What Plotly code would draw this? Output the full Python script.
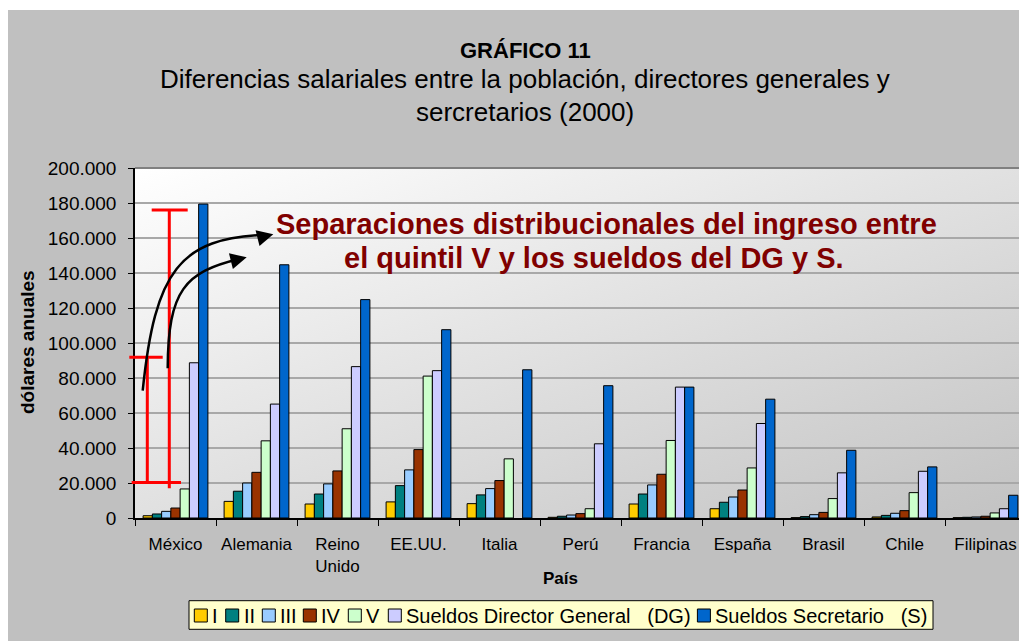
import base64
import plotly.graph_objects as go

# ---------------- data ----------------
categories = ["México", "Alemania", "Reino Unido", "EE.UU.", "Italia", "Perú",
              "Francia", "España", "Brasil", "Chile", "Filipinas"]
tick_labels = ["México", "Alemania", "Reino<br>Unido", "EE.UU.", "Italia", "Perú",
               "Francia", "España", "Brasil", "Chile", "Filipinas"]

quintil_I = [1300, 9500, 8000, 9200, 8200, 400, 8000, 5300, 200, 600, 200]
quintil_II = [2300, 15300, 13700, 18500, 13200, 1000, 13700, 9000, 800, 1500, 400]
quintil_III = [3800, 20000, 19500, 27500, 16800, 1700, 18900, 12000, 1900, 2700, 600]
quintil_IV = [5700, 26100, 26900, 39100, 21400, 2500, 25000, 16000, 3200, 4200, 1000]
quintil_V = [16600, 44100, 51000, 81100, 33800, 5300, 44300, 28600, 11100, 14500, 2900]
sueldo_DG = [88700, 65100, 86500, 84200, None, 42400, 74800, 54000, 25800, 26700, 5300]
sueldo_S = [179400, 144700, 124800, 107600, 84700, 75600, 74800, 67900, 38700, 29200, 13000]

series_names = ["I", "II", "III", "IV", "V",
                "Sueldos Director General\u00a0\u00a0\u00a0(DG)",
                "Sueldos Secretario\u00a0\u00a0\u00a0(S)"]
series_values = [quintil_I, quintil_II, quintil_III, quintil_IV, quintil_V, sueldo_DG, sueldo_S]

y_tick_values = list(range(0, 200001, 20000))

# ---------------- styles / geometry ----------------
colors = ["#FFCC00", "#008080", "#99CCFF", "#993300", "#CCFFCC", "#CCCCFF", "#0066CC"]
FONT = "Liberation Sans, Arial, sans-serif"

OX, OY = 8, 8                       # page offset of the figure (body margin)
W, H = 1027, 641
PL, PR, PT, PB = 135, 1026, 168, 518   # plot area in page pixels
PW, PH = PR - PL, PB - PT
ML, MT = PL - OX, PT - OY
MR = W - (ML + PW)
MB = H - (MT + PH)


def xp(px):
    return (px - PL) / PW


def yp(py):
    return (PB - py) / PH


fig = go.Figure()
for name, vals, col in zip(series_names, series_values, colors):
    fig.add_trace(go.Bar(
        x=categories, y=vals, name=name,
        marker=dict(color=col, line=dict(color="#000000", width=1)),
        showlegend=False,
    ))

# gradient background of the plot area (svg data uri)
svg = ('<svg xmlns="http://www.w3.org/2000/svg" width="100" height="100" '
       'viewBox="0 0 100 100" preserveAspectRatio="none">'
       '<defs><linearGradient id="g" x1="0" y1="0" x2="1" y2="1">'
       '<stop offset="0" stop-color="#ffffff"/>'
       '<stop offset="1" stop-color="#c2c2c2"/>'
       '</linearGradient></defs>'
       '<rect x="0" y="0" width="100" height="100" fill="url(#g)"/></svg>')
svg_uri = "data:image/svg+xml;base64," + base64.b64encode(svg.encode()).decode()

shapes = []
# thin white strip on top (grey area starts at y=10 in the page)
shapes.append(dict(type="rect", xref="paper", yref="paper", x0=xp(0), x1=xp(1040),
                   y0=yp(10), y1=yp(0), fillcolor="white", line=dict(width=0), layer="below"))
# darker top border of the plot area
shapes.append(dict(type="line", xref="paper", yref="paper", x0=0, x1=1, y0=1, y1=1,
                   line=dict(color="#808080", width=2)))

# red range markers
red = dict(color="#FF0000", width=3)
for (x0, y0, x1, y1) in [(147.3, 357.3, 147.3, 482.3), (129.3, 357.3, 162.7, 357.3),
                         (131.7, 482.5, 181.0, 482.5), (169.3, 210.0, 169.3, 488.3),
                         (151.7, 210.0, 187.7, 210.0)]:
    shapes.append(dict(type="line", xref="paper", yref="paper",
                       x0=xp(x0), y0=yp(y0), x1=xp(x1), y1=yp(y1), line=red))


def cubic(p0, p1, p2, p3):
    s = [f"{xp(a):.5f},{yp(b):.5f}" for a, b in (p0, p1, p2, p3)]
    return f"M{s[0]} C{s[1]} {s[2]} {s[3]}"


blk = dict(color="#000000", width=2.5)
shapes.append(dict(type="path", xref="paper", yref="paper",
                   path=cubic((142.7, 390.7), (155, 270), (180, 238), (266, 234.8)), line=blk))
shapes.append(dict(type="path", xref="paper", yref="paper",
                   path=cubic((167.7, 368.3), (168, 290), (185, 272), (240, 258.8)), line=blk))

annotations = []
# arrow heads
for (tx, ty) in [(273.3, 234.3), (246.7, 257.3)]:
    annotations.append(dict(xref="paper", yref="paper", x=xp(tx), y=yp(ty), text="",
                            showarrow=True, arrowhead=2, arrowsize=1.3, arrowwidth=2.5,
                            arrowcolor="#000000", ax=-16, ay=4, standoff=0))

# titles
annotations.append(dict(xref="paper", yref="paper", x=xp(525), y=yp(50.5), text="<b>GRÁFICO 11</b>",
                        showarrow=False, xanchor="center", yanchor="middle",
                        font=dict(family=FONT, size=22, color="#000000")))
annotations.append(dict(xref="paper", yref="paper", x=xp(525), y=yp(79.5),
                        text="Diferencias salariales entre la población, directores generales y",
                        showarrow=False, xanchor="center", yanchor="middle",
                        font=dict(family=FONT, size=26, color="#000000")))
annotations.append(dict(xref="paper", yref="paper", x=xp(525), y=yp(112),
                        text="sercretarios (2000)",
                        showarrow=False, xanchor="center", yanchor="middle",
                        font=dict(family=FONT, size=26, color="#000000")))

# highlighted note
note = dict(family=FONT, size=29, color="#800000")
annotations.append(dict(xref="paper", yref="paper", x=xp(606.5), y=yp(224),
                        text="<b>Separaciones distribucionales del ingreso entre</b>",
                        showarrow=False, xanchor="center", yanchor="middle", font=note))
annotations.append(dict(xref="paper", yref="paper", x=xp(594), y=yp(258),
                        text="<b>el quintil V y los sueldos del DG y S.</b>",
                        showarrow=False, xanchor="center", yanchor="middle", font=note))

# axis titles
annotations.append(dict(xref="paper", yref="paper", x=xp(560), y=yp(578), text="<b>País</b>",
                        showarrow=False, xanchor="center", yanchor="middle",
                        font=dict(family=FONT, size=17, color="#000000")))
annotations.append(dict(xref="paper", yref="paper", x=xp(27), y=yp(342), text="<b>dólares anuales</b>",
                        showarrow=False, xanchor="center", yanchor="middle", textangle=-90,
                        font=dict(family=FONT, size=19, color="#000000")))

# custom legend
legend_marker_x = [194.3, 225.7, 262.3, 303.3, 348.3, 388.3, 697.4]
shapes.append(dict(type="rect", xref="paper", yref="paper", x0=xp(189), x1=xp(933),
                   y0=yp(629.3), y1=yp(600.7), fillcolor="#FFFFCC",
                   line=dict(color="#000000", width=1)))
for mx, name, col in zip(legend_marker_x, series_names, colors):
    shapes.append(dict(type="rect", xref="paper", yref="paper", x0=xp(mx), x1=xp(mx + 13),
                       y0=yp(622), y1=yp(609), fillcolor=col,
                       line=dict(color="#000000", width=1)))
    annotations.append(dict(xref="paper", yref="paper", x=xp(mx + 16), y=yp(615.5), text=name,
                            showarrow=False, xanchor="left", yanchor="middle",
                            font=dict(family=FONT, size=20, color="#000000")))

fig.update_layout(
    width=W, height=H,
    margin=dict(l=ML, r=MR, t=MT, b=MB, pad=0),
    paper_bgcolor="#C0C0C0",
    plot_bgcolor="rgba(0,0,0,0)",
    separators=",.",
    barmode="group", bargap=0.2, bargroupgap=0,
    showlegend=False,
    font=dict(family=FONT, color="#000000"),
    images=[dict(source=svg_uri, xref="paper", yref="paper", x=0, y=1, sizex=1, sizey=1,
                 xanchor="left", yanchor="top", sizing="stretch", layer="below")],
    shapes=shapes,
    annotations=annotations,
    xaxis=dict(
        type="category", tickvals=categories, ticktext=tick_labels,
        showline=True, linecolor="#000000", linewidth=1.5,
        ticks="outside", tickson="boundaries", ticklen=6, tickcolor="#000000",
        tickfont=dict(family=FONT, size=17, color="#000000"),
        ticklabelstandoff=10, showgrid=False, fixedrange=True,
    ),
    yaxis=dict(
        range=[0, 200000], tickvals=y_tick_values, tickformat=",.0f",
        showline=True, linecolor="#000000", linewidth=1.5,
        ticks="outside", ticklen=5, tickcolor="#000000",
        tickfont=dict(family=FONT, size=19, color="#000000"),
        ticklabelstandoff=8,
        showgrid=True, gridcolor="#A8A8A8", gridwidth=1.5,
        zeroline=False, fixedrange=True,
    ),
)

fig.write_html("out.html")
